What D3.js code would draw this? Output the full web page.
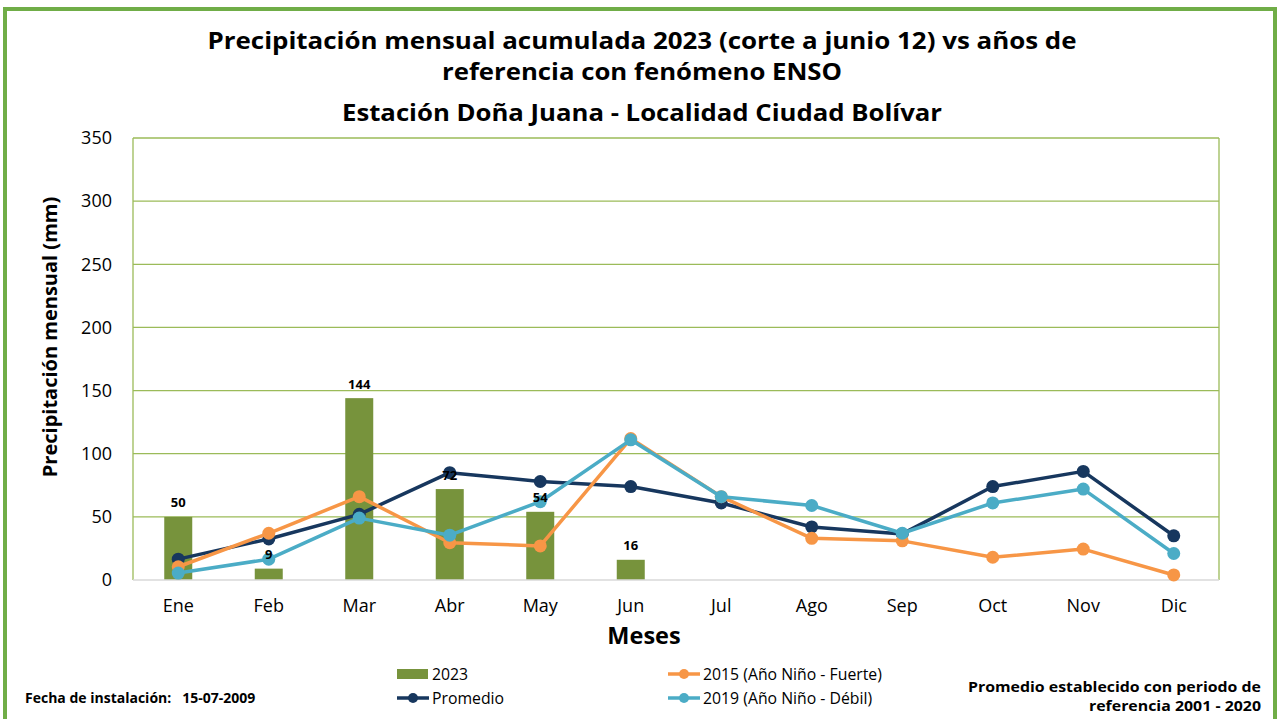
<!DOCTYPE html>
<html>
<head>
<meta charset="utf-8">
<script src="https://cdn.jsdelivr.net/npm/d3@7"></script>
<style>
  body { margin: 0; background: #fff; }
  svg { display: block; font-family: "Open Sans", "Noto Sans", sans-serif; }
</style>
</head>
<body>
<div id="chart"></div>
<script>
const months = ["Ene", "Feb", "Mar", "Abr", "May", "Jun", "Jul", "Ago", "Sep", "Oct", "Nov", "Dic"];
const bars2023 = [50, 9, 144, 72, 54, 16];
const promedio = [16.5, 32.5, 52, 85, 78, 74, 61, 42, 36.5, 74, 86, 35];
const nino2015 = [10.5, 37, 66, 29.5, 27, 112, 66, 33, 31, 18, 24.5, 4];
const nino2019 = [5.5, 16.5, 49, 35.5, 62, 111, 66, 59, 37, 61, 72, 21];
const yTicks = [0, 50, 100, 150, 200, 250, 300, 350];

const W = 1280, H = 719;
const margin = { top: 138, right: 61, bottom: 139, left: 133 },
      width = W - margin.left - margin.right,
      height = H - margin.top - margin.bottom;

const svg = d3.select("#chart").append("svg")
  .attr("width", W)
  .attr("height", H);

// marco verde exterior
svg.append("rect")
  .attr("x", 5).attr("y", 9)
  .attr("width", W - 10).attr("height", H + 10)
  .attr("fill", "none")
  .attr("stroke", "#70ad47")
  .attr("stroke-width", 4);

// titulos (ancho ajustado al de la referencia)
const titles = [
  { t: "Precipitación mensual acumulada 2023 (corte a junio 12) vs años de", y: 41, w: 869 },
  { t: "referencia con fenómeno ENSO", y: 72, w: 400 },
  { t: "Estación Doña Juana - Localidad Ciudad Bolívar", y: 113, w: 600 }
];
svg.selectAll("text.title").data(titles).enter().append("text")
  .attr("class", "title")
  .attr("x", 642).attr("y", d => d.y)
  .attr("dy", "0.35em")
  .attr("text-anchor", "middle")
  .attr("textLength", d => d.w)
  .attr("lengthAdjust", "spacingAndGlyphs")
  .style("font-size", "22.5px")
  .style("font-weight", "bold")
  .style("fill", "#000")
  .text(d => d.t);

const g = svg.append("g")
  .attr("transform", `translate(${margin.left},${margin.top})`);

const x = d3.scaleBand().domain(months).range([0, width]);
const y = d3.scaleLinear().domain([0, 350]).range([height, 0]);

// lineas de grilla
g.selectAll("line.grid").data(yTicks.filter(d => d > 0)).enter().append("line")
  .attr("class", "grid")
  .attr("x1", 0).attr("x2", width)
  .attr("y1", d => y(d)).attr("y2", d => y(d))
  .attr("stroke", "#9bbb59")
  .attr("stroke-width", 1.3);

g.append("line").attr("x1", 0).attr("x2", 0).attr("y1", 0).attr("y2", height)
  .attr("stroke", "#9bbb59").attr("stroke-width", 1.3);
g.append("line").attr("x1", width).attr("x2", width).attr("y1", 0).attr("y2", height)
  .attr("stroke", "#9bbb59").attr("stroke-width", 1.3);

// etiquetas eje y
g.selectAll("text.ytick").data(yTicks).enter().append("text")
  .attr("class", "ytick")
  .attr("x", -21).attr("y", d => y(d))
  .attr("dy", "0.35em")
  .attr("text-anchor", "end")
  .style("font-size", "18px")
  .style("fill", "#000")
  .text(d => d);

// barras 2023
const barW = 28;
g.selectAll("rect.bar").data(bars2023).enter().append("rect")
  .attr("class", "bar")
  .attr("x", (d, i) => x(months[i]) + x.bandwidth() / 2 - barW / 2)
  .attr("y", d => y(d))
  .attr("width", barW)
  .attr("height", d => height - y(d))
  .attr("fill", "#77933c");

g.append("line").attr("x1", 0).attr("x2", width).attr("y1", height).attr("y2", height)
  .attr("stroke", "#d9d9d9").attr("stroke-width", 1.5);

// etiquetas eje x
g.selectAll("text.xtick").data(months).enter().append("text")
  .attr("class", "xtick")
  .attr("x", d => x(d) + x.bandwidth() / 2)
  .attr("y", height + 26)
  .attr("dy", "0.35em")
  .attr("text-anchor", "middle")
  .style("font-size", "18px")
  .style("fill", "#000")
  .text(d => d);

// series de lineas
const line = d3.line()
  .x((d, i) => x(months[i]) + x.bandwidth() / 2)
  .y(d => y(d));

const series = [
  { name: "2015 (Año Niño - Fuerte)", values: nino2015, color: "#f79646" },
  { name: "2019 (Año Niño - Débil)", values: nino2019, color: "#4bacc6" },
  { name: "Promedio", values: promedio, color: "#17375e" }
];
const drawOrder = [series[2], series[0], series[1]];

drawOrder.forEach(s => {
  g.append("path")
    .datum(s.values)
    .attr("fill", "none")
    .attr("stroke", s.color)
    .attr("stroke-width", 3.5)
    .attr("stroke-linejoin", "round")
    .attr("d", line);
  g.selectAll(null).data(s.values).enter().append("circle")
    .attr("cx", (d, i) => x(months[i]) + x.bandwidth() / 2)
    .attr("cy", d => y(d))
    .attr("r", 6.5)
    .attr("fill", s.color);
});

// etiquetas de barras
g.selectAll("text.blabel").data(bars2023).enter().append("text")
  .attr("class", "blabel")
  .attr("x", (d, i) => x(months[i]) + x.bandwidth() / 2)
  .attr("y", d => y(d) - 14)
  .attr("dy", "0.35em")
  .attr("text-anchor", "middle")
  .style("font-size", "13px")
  .style("font-weight", "bold")
  .style("fill", "#000")
  .text(d => d);

// titulos de ejes
svg.append("text")
  .attr("transform", "translate(50,337) rotate(-90)")
  .attr("text-anchor", "middle")
  .attr("dy", "0.35em")
  .style("font-size", "20px")
  .style("font-weight", "bold")
  .text("Precipitación mensual (mm)");

svg.append("text")
  .attr("x", 644).attr("y", 636)
  .attr("dy", "0.35em")
  .attr("text-anchor", "middle")
  .style("font-size", "23.5px")
  .style("font-weight", "bold")
  .text("Meses");

// leyenda
const legend = [
  { name: "2023", type: "bar", color: "#77933c", x: 397, y: 674 },
  { name: "2015 (Año Niño - Fuerte)", type: "line", color: "#f79646", x: 668, y: 674 },
  { name: "Promedio", type: "line", color: "#17375e", x: 397, y: 698 },
  { name: "2019 (Año Niño - Débil)", type: "line", color: "#4bacc6", x: 668, y: 698 }
];
const lg = svg.selectAll("g.leg").data(legend).enter().append("g")
  .attr("class", "leg")
  .attr("transform", d => `translate(${d.x},${d.y})`);
lg.filter(d => d.type === "bar").append("rect")
  .attr("x", 0).attr("y", -5).attr("width", 31).attr("height", 10)
  .attr("fill", d => d.color);
lg.filter(d => d.type === "line").append("line")
  .attr("x1", 0).attr("x2", 32).attr("y1", 0).attr("y2", 0)
  .attr("stroke", d => d.color).attr("stroke-width", 3.5);
lg.filter(d => d.type === "line").append("circle")
  .attr("cx", 16).attr("cy", 0).attr("r", 5)
  .attr("fill", d => d.color);
lg.append("text")
  .attr("x", 35).attr("y", 0).attr("dy", "0.35em")
  .style("font-size", "15.8px")
  .style("fill", "#000")
  .text(d => d.name);

// notas
svg.append("text")
  .attr("x", 25).attr("y", 698).attr("dy", "0.35em")
  .style("font-size", "14px").style("font-weight", "bold")
  .style("white-space", "pre")
  .text("Fecha de instalación:   15-07-2009");

const notes = [
  { t: "Promedio establecido con periodo de", y: 687, w: 293 },
  { t: "referencia 2001 - 2020", y: 706, w: 172 }
];
svg.selectAll("text.note").data(notes).enter().append("text")
  .attr("class", "note")
  .attr("x", 1261).attr("y", d => d.y).attr("dy", "0.35em")
  .attr("text-anchor", "end")
  .attr("textLength", d => d.w)
  .attr("lengthAdjust", "spacingAndGlyphs")
  .style("font-size", "13.5px").style("font-weight", "bold")
  .text(d => d.t);
</script>
</body>
</html>
